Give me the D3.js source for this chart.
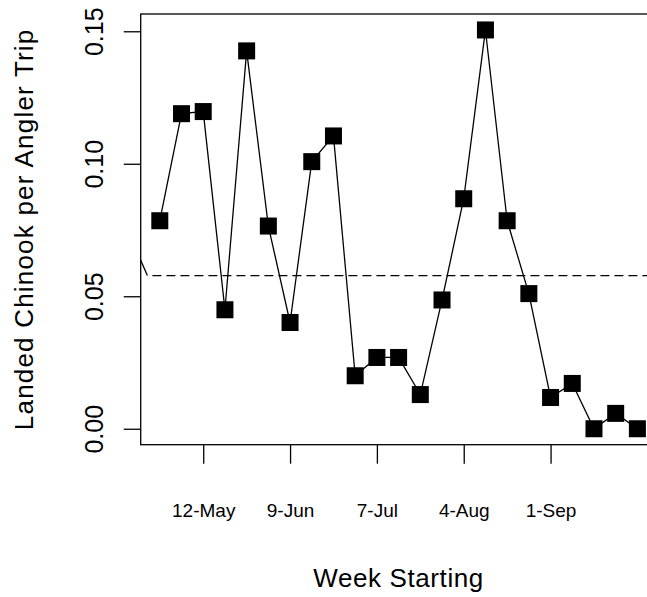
<!DOCTYPE html>
<html>
<head>
<meta charset="utf-8">
<script src="https://cdn.jsdelivr.net/npm/d3@7"></script>
<style>
  body { margin: 0; background: #fff; }
  text { font-family: "Liberation Sans", Arial, sans-serif; fill: #000; }
</style>
</head>
<body>
<div id="chart"></div>
<script>
// weekly landed chinook per angler trip, weeks starting 28-Apr
const weekStarts = [
  '2013-04-28', '2013-05-05', '2013-05-12', '2013-05-19', '2013-05-26', '2013-06-02',
  '2013-06-09', '2013-06-16', '2013-06-23', '2013-06-30', '2013-07-07', '2013-07-14',
  '2013-07-21', '2013-07-28', '2013-08-04', '2013-08-11', '2013-08-18', '2013-08-25',
  '2013-09-01', '2013-09-08', '2013-09-15', '2013-09-22', '2013-09-29'
];
const landedPerTrip = [
  0.0785, 0.1189, 0.1197, 0.0449, 0.1426, 0.0765,
  0.0401, 0.1008, 0.1105, 0.0200, 0.0269, 0.0269,
  0.0129, 0.0486, 0.0868, 0.1505, 0.0785, 0.0510,
  0.0118, 0.0171, 0.0000, 0.0058, 0.0000
];
// reference level (dashed), with the short lead-in from the left
const refDates = ['2013-04-21', '2013-04-24', '2013-10-06'];
const refValues = [0.0659, 0.0578, 0.0578];

const xTickDates = ['2013-05-12', '2013-06-09', '2013-07-07', '2013-08-04', '2013-09-01'];
const yTickValues = [0, 0.05, 0.10, 0.15];

const xLabel = 'Week Starting';
const yLabel = 'Landed Chinook per Angler Trip';

const width = 647;
const height = 597;
const plot = { left: 140.7, right: 656.5, top: 14, bottom: 444.7 };

const parse = d3.timeParse('%Y-%m-%d');
const data = weekStarts.map((d, i) => ({ date: parse(d), value: landedPerTrip[i] }));
const refLine = refDates.map((d, i) => ({ date: parse(d), value: refValues[i] }));

const svg = d3.select('#chart')
    .append('svg')
    .attr('width', width)
    .attr('height', height);

// R-style 4% padding on both axes
const xExt = d3.extent(data, d => d.date);
const xPad = (xExt[1] - xExt[0]) * 0.04;
const xScale = d3.scaleTime()
    .domain([new Date(+xExt[0] - xPad), new Date(+xExt[1] + xPad)])
    .range([plot.left, plot.right]);

const yExt = d3.extent(data, d => d.value);
const yPad = (yExt[1] - yExt[0]) * 0.04;
const yScale = d3.scaleLinear()
    .domain([yExt[0] - yPad, yExt[1] + yPad])
    .range([plot.bottom, plot.top]);

svg.append('defs').append('clipPath')
    .attr('id', 'plot-clip')
    .append('rect')
    .attr('x', plot.left)
    .attr('y', plot.top)
    .attr('width', plot.right - plot.left)
    .attr('height', plot.bottom - plot.top);

const plotGroup = svg.append('g')
    .attr('clip-path', 'url(#plot-clip)');

const line = d3.line()
    .x(d => xScale(d.date))
    .y(d => yScale(d.value));

// reference line: solid lead-in, then dashed level
plotGroup.append('path')
    .datum(refLine.slice(0, 2))
    .attr('fill', 'none')
    .attr('stroke', '#000')
    .attr('stroke-width', 1.3)
    .attr('d', line);

plotGroup.append('path')
    .datum(refLine.slice(1))
    .attr('fill', 'none')
    .attr('stroke', '#000')
    .attr('stroke-width', 1.3)
    .attr('stroke-dasharray', '9 5')
    .attr('stroke-dashoffset', 9)
    .attr('d', line);

plotGroup.append('path')
    .datum(data)
    .attr('fill', 'none')
    .attr('stroke', '#000')
    .attr('stroke-width', 1.3)
    .attr('d', line);

const size = 17;
plotGroup.selectAll('rect.pt')
    .data(data)
    .join('rect')
    .attr('class', 'pt')
    .attr('x', d => xScale(d.date) - size / 2)
    .attr('y', d => yScale(d.value) - size / 2)
    .attr('width', size)
    .attr('height', size)
    .attr('fill', '#000');

// frame (right side runs off the page)
svg.append('rect')
    .attr('x', plot.left)
    .attr('y', plot.top)
    .attr('width', plot.right - plot.left)
    .attr('height', plot.bottom - plot.top)
    .attr('fill', 'none')
    .attr('stroke', '#000')
    .attr('stroke-width', 1.3);

const xAxis = d3.axisBottom(xScale)
    .tickValues(xTickDates.map(parse))
    .tickFormat(d3.timeFormat('%-d-%b'))
    .tickSize(19)
    .tickSizeOuter(0);
const xAxisGroup = svg.append('g')
    .attr('transform', `translate(0,${plot.bottom})`)
    .call(xAxis);
xAxisGroup.select('.domain').remove();
xAxisGroup.selectAll('line').attr('stroke', '#000').attr('stroke-width', 1.3);
xAxisGroup.selectAll('text')
    .attr('y', 72.6)
    .attr('dy', 0)
    .style('font-size', '19px')
    .style('font-family', '"Liberation Sans", Arial, sans-serif')
    .attr('fill', '#000');

const yAxis = d3.axisLeft(yScale)
    .tickValues(yTickValues)
    .tickFormat(d3.format('.2f'))
    .tickSize(17)
    .tickSizeOuter(0);
const yAxisGroup = svg.append('g')
    .attr('transform', `translate(${plot.left},0)`)
    .call(yAxis);
yAxisGroup.select('.domain').remove();
yAxisGroup.selectAll('line').attr('stroke', '#000').attr('stroke-width', 1.3);
yAxisGroup.selectAll('text')
    .attr('transform', 'rotate(-90)')
    .attr('x', 0)
    .attr('y', -37.7)
    .attr('dy', 0)
    .style('text-anchor', 'middle')
    .style('font-size', '25px')
    .style('font-family', '"Liberation Sans", Arial, sans-serif')
    .attr('fill', '#000');

svg.append('text')
    .attr('x', (plot.left + plot.right) / 2)
    .attr('y', 587)
    .attr('text-anchor', 'middle')
    .style('font-size', '26px')
    .style('letter-spacing', '0.6px')
    .text(xLabel);

svg.append('text')
    .attr('transform', `translate(33,${(plot.top + plot.bottom) / 2}) rotate(-90)`)
    .attr('text-anchor', 'middle')
    .style('font-size', '26px')
    .style('letter-spacing', '1.2px')
    .text(yLabel);
</script>
</body>
</html>
